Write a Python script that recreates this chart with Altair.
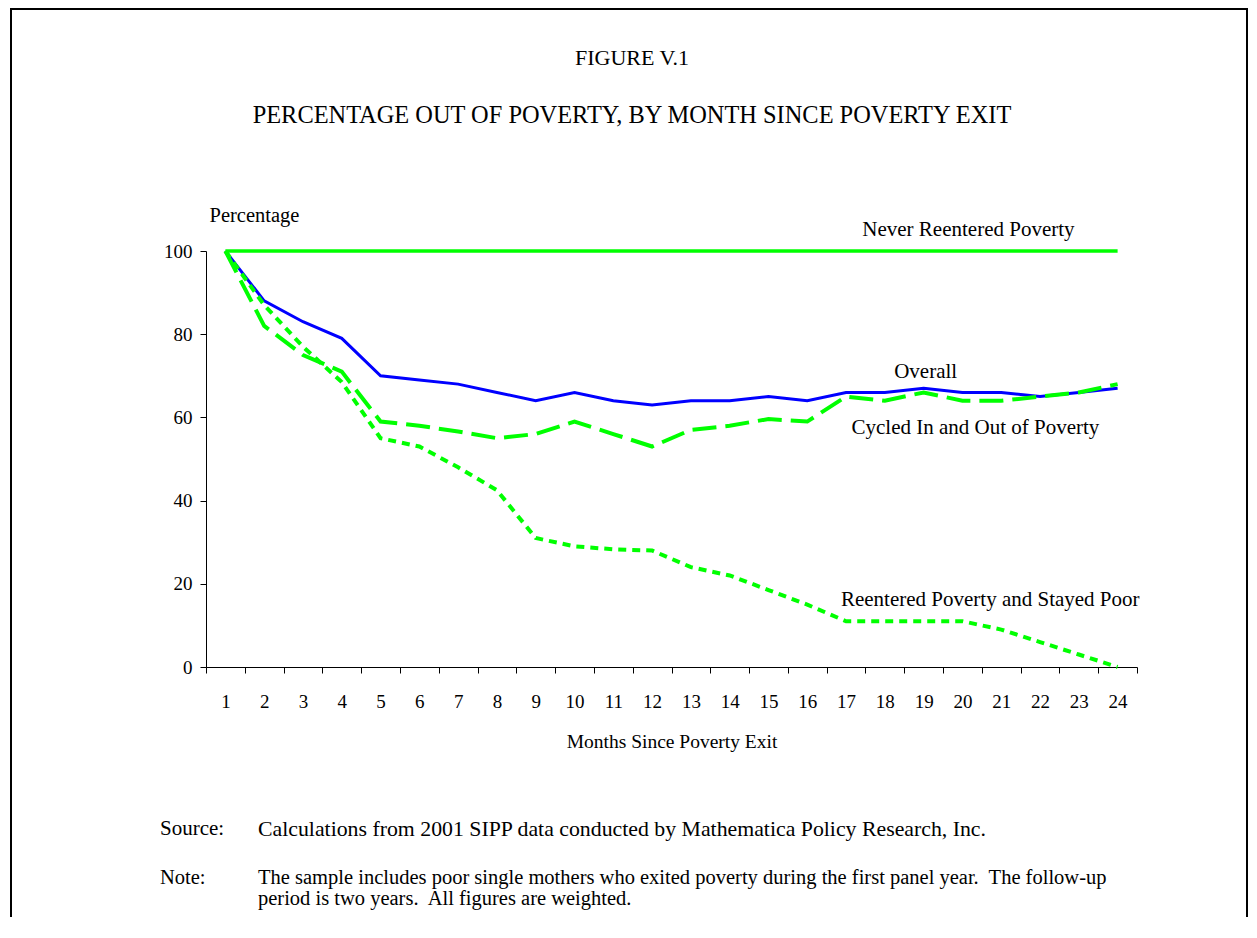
import altair as alt
import pandas as pd

# ---------------- data ----------------
months = list(range(1, 25))
overall = [100, 88, 83, 79, 70, 69, 68, 66, 64, 66, 64, 63, 64, 64, 65, 64, 66, 66, 67, 66, 66, 65, 66, 67]
never_reentered = [100] * 24
cycled = [100, 82, 75, 71, 59, 58, 56.6, 55, 56, 59, 56, 53, 57, 58, 59.6, 59, 65, 64, 66, 64, 64, 65, 66, 68]
stayed_poor = [100, 87, 77, 68.5, 55, 53, 48, 42.5, 31, 29, 28.3, 28, 24, 22, 18.5, 15, 11, 11, 11, 11, 9, 6, 3, 0]

y_ticks = [0, 20, 40, 60, 80, 100]

series_names = ["Overall", "Never Reentered Poverty", "Cycled In and Out of Poverty",
                "Reentered Poverty and Stayed Poor"]
series_values = [overall, never_reentered, cycled, stayed_poor]

# labels placed next to the lines (month, value anchor)
label_texts = ["Never Reentered Poverty", "Overall", "Cycled In and Out of Poverty",
               "Reentered Poverty and Stayed Poor"]
label_months = [20, 19, 20, 21]
label_values = [105, 71, 57.5, 16]

title_text = "FIGURE V.1"
subtitle_text = "PERCENTAGE OUT OF POVERTY, BY MONTH SINCE POVERTY EXIT"
source_head = "Source:"
source_body = "Calculations from 2001 SIPP data conducted by Mathematica Policy Research, Inc."
note_head = "Note:"
note_line1 = "The sample includes poor single mothers who exited poverty during the first panel year.\u00a0 The follow-up"
note_line2 = "period is two years.\u00a0 All figures are weighted."

# ---------------- styling ----------------
FONT = "Liberation Serif"
W, H = 931, 416
GREEN = "#00FF00"
BLUE = "#0000FF"

styles = {
    "Overall": dict(color=BLUE, strokeWidth=3),
    "Never Reentered Poverty": dict(color=GREEN, strokeWidth=3.5),
    "Cycled In and Out of Poverty": dict(color=GREEN, strokeWidth=4, strokeDash=[24, 9]),
    "Reentered Poverty and Stayed Poor": dict(color=GREEN, strokeWidth=4, strokeDash=[8, 6]),
}
label_dx = {"Never Reentered Poverty": 6, "Overall": 2,
            "Cycled In and Out of Poverty": 13, "Reentered Poverty and Stayed Poor": -11}

rows = []
for name, vals in zip(series_names, series_values):
    for m, v in zip(months, vals):
        rows.append({"month": m, "value": v, "series": name})
df = pd.DataFrame(rows)

x_scale = alt.Scale(type="band", paddingInner=0, paddingOuter=0, domain=months)
y_scale = alt.Scale(domain=[0, 100], nice=False, zero=True)

x_axis = alt.Axis(
    title="Months Since Poverty Exit", labelAngle=0, tickBand="extent", tickSize=6,
    labelPadding=19, titlePadding=21, labelFont=FONT, labelFontSize=19, labelColor="black",
    titleFont=FONT, titleFontSize=19.5, titleFontWeight="normal", titleColor="black",
    domainColor="black", tickColor="black", grid=False, labelFlush=False, labelOverlap=False,
)
y_axis = alt.Axis(
    values=y_ticks, title="Percentage", titleAngle=0, titleAlign="left", titleBaseline="middle",
    titleX=3, titleY=-36, titleFont=FONT, titleFontSize=20.5, titleFontWeight="normal",
    titleColor="black", labelFont=FONT, labelFontSize=19, labelColor="black",
    labelPadding=8, tickSize=6, domainColor="black", tickColor="black", grid=False,
    labelFlush=False,
)

X = alt.X("month:O", scale=x_scale, axis=x_axis, bandPosition=0.5)
Y = alt.Y("value:Q", scale=y_scale, axis=y_axis)

layers = []
for name in series_names:
    st = styles[name]
    mk = dict(color=st["color"], strokeWidth=st["strokeWidth"], strokeCap="butt", strokeJoin="miter")
    if "strokeDash" in st:
        mk["strokeDash"] = st["strokeDash"]
    layers.append(alt.Chart(df[df.series == name]).mark_line(**mk).encode(x=X, y=Y))

lab_df = pd.DataFrame({"text": label_texts, "month": label_months, "value": label_values})
for t in label_texts:
    layers.append(
        alt.Chart(lab_df[lab_df.text == t]).mark_text(
            font=FONT, fontSize=21, color="black", align="center", baseline="middle",
            dx=label_dx[t],
        ).encode(x=X, y=Y, text="text:N")
    )

# titles and notes (annotation text)
def txt(t, x, y, align="left", size=21):
    return alt.Chart(pd.DataFrame({"t": [t]})).mark_text(
        font=FONT, fontSize=size, color="black", align=align, baseline="middle"
    ).encode(x=alt.value(x), y=alt.value(y), text="t:N")

layers += [
    txt(title_text, 426, -193, "center", 22),
    txt(subtitle_text, 426, -135, "center", 24.4),
    txt(source_head, -46, 578, size=21),
    txt(source_body, 52, 578, size=21.8),
    txt(note_head, -46, 627, size=20.5),
    txt(note_line1, 52, 627, size=20.5),
    txt(note_line2, 52, 648, size=20.5),
]

# frame around the figure
frame = alt.Chart(pd.DataFrame({"k": [0]}))
layers += [
    frame.mark_rule(color="black", strokeWidth=2).encode(
        x=alt.value(-195), y=alt.value(-242), y2=alt.value(H + 250)),
    frame.mark_rule(color="black", strokeWidth=2).encode(
        x=alt.value(-196), x2=alt.value(1042), y=alt.value(-242)),
    frame.mark_rule(color="black", strokeWidth=2).encode(
        x=alt.value(1041), y=alt.value(-242), y2=alt.value(H + 250)),
]

chart = alt.layer(*layers).properties(
    width=W, height=H,
    autosize=alt.AutoSizeParams(type="none"),
    padding={"left": 198, "top": 243, "right": 112, "bottom": 250},
).configure(background="white").configure_view(strokeWidth=0, stroke="transparent")

chart.save("out.html", embed_options={"renderer": "svg", "actions": False})
